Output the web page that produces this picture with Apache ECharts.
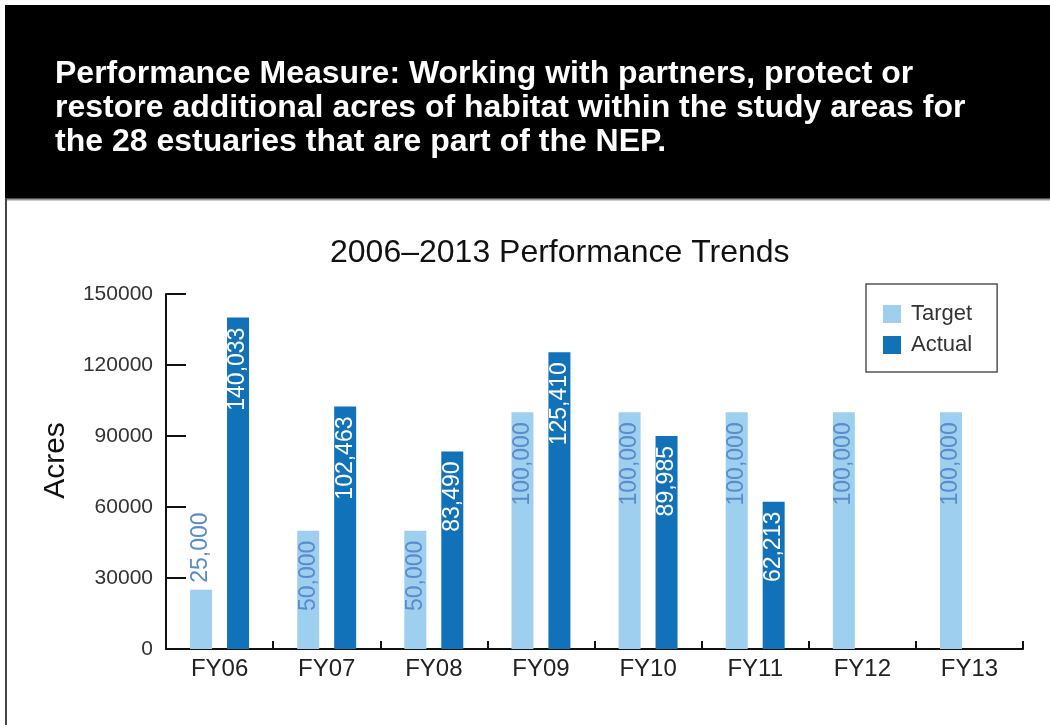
<!DOCTYPE html>
<html>
<head>
<meta charset="utf-8">
<script src="https://cdn.jsdelivr.net/npm/echarts@6/dist/echarts.min.js"></script>
<style>
  html, body { margin: 0; padding: 0; background: #fff; }
  #chart { width: 1050px; height: 725px; }
</style>
</head>
<body>
<div id="chart"></div>
<script>
// data
var years = ['FY06', 'FY07', 'FY08', 'FY09', 'FY10', 'FY11', 'FY12', 'FY13'];
var targetAcres = [25000, 50000, 50000, 100000, 100000, 100000, 100000, 100000];
var actualAcres = [140033, 102463, 83490, 125410, 89985, 62213, null, null];
var yTicks = [0, 30000, 60000, 90000, 120000, 150000];

var FONT = '"Liberation Sans", Helvetica, Arial, sans-serif';
var headline = 'Performance Measure: Working with partners, protect or\n' +
    'restore additional acres of habitat within the study areas for\n' +
    'the 28 estuaries that are part of the NEP.';

function fmt(p) {
    return p.value == null ? '' : Number(p.value).toLocaleString('en-US');
}

// the short first target bar has its label sitting above the bar
var targetData = targetAcres.map(function (v) {
    if (v < 40000) {
        return {
            value: v,
            label: { position: 'top', align: 'left', distance: 7 }
        };
    }
    return v;
});

var myChart = echarts.init(document.getElementById('chart'));

var option = {
    animation: false,
    backgroundColor: '#fff',
    textStyle: { fontFamily: FONT },
    graphic: [
        { type: 'rect', z: -1, shape: { x: 5, y: 5, width: 1045, height: 194 }, style: { fill: '#000' } },
        { type: 'line', z: -1, shape: { x1: 5, y1: 199.5, x2: 1050, y2: 199.5 }, style: { stroke: '#999', lineWidth: 2 } },
        { type: 'line', z: -1, shape: { x1: 6, y1: 199, x2: 6, y2: 725 }, style: { stroke: '#444', lineWidth: 2 } },
        {
            type: 'text', left: 55, top: 57,
            style: {
                text: headline, fill: '#fff',
                font: 'bold 32px ' + FONT, lineHeight: 34
            }
        }
    ],
    title: {
        text: '2006\u20132013 Performance Trends',
        left: 330, top: 237,
        padding: 0,
        textStyle: { fontSize: 32, fontWeight: 'normal', color: '#111', fontFamily: FONT }
    },
    legend: {
        orient: 'vertical',
        left: 866, top: 284,
        width: 132,
        padding: [19, 25, 16, 17],
        itemWidth: 18, itemHeight: 18, itemGap: 9,
        icon: 'rect',
        borderColor: '#555', borderWidth: 1.5,
        textStyle: { fontSize: 22, color: '#333', padding: [0, 0, 0, 5] },
        data: ['Target', 'Actual']
    },
    grid: { left: 166, right: 27, top: 294, bottom: 76 },
    xAxis: {
        type: 'category',
        data: years,
        axisLine: { lineStyle: { color: '#111', width: 2 } },
        axisTick: { show: true, inside: true, length: 8, lineStyle: { color: '#111', width: 2 } },
        axisLabel: { fontSize: 24, color: '#222', margin: 8 }
    },
    yAxis: {
        type: 'value',
        min: yTicks[0], max: yTicks[yTicks.length - 1], interval: 30000,
        name: 'Acres', nameLocation: 'middle', nameRotate: 90, nameGap: 95,
        nameTextStyle: { fontSize: 30, color: '#111', padding: [0, 0, 0, 22] },
        axisLine: { show: true, lineStyle: { color: '#111', width: 2 } },
        axisTick: { show: true, inside: true, length: 20, lineStyle: { color: '#111', width: 2 } },
        axisLabel: {
            fontSize: 21, color: '#333', margin: 13,
            formatter: function (v) { return String(v); }
        },
        splitLine: { show: false }
    },
    series: [
        {
            name: 'Target', type: 'bar',
            barWidth: 22, barGap: '68%',
            itemStyle: { color: '#9ecfee' },
            label: {
                show: true, rotate: 90, position: 'insideTop',
                align: 'right', verticalAlign: 'middle', distance: 10,
                fontSize: 23, color: '#5a8ccb', formatter: fmt
            },
            data: targetData
        },
        {
            name: 'Actual', type: 'bar',
            barWidth: 22,
            itemStyle: { color: '#1172ba' },
            label: {
                show: true, rotate: 90, position: 'insideTop',
                align: 'right', verticalAlign: 'middle', distance: 10,
                fontSize: 23, color: '#fff', formatter: fmt
            },
            data: actualAcres
        }
    ]
};

myChart.setOption(option);
</script>
</body>
</html>
